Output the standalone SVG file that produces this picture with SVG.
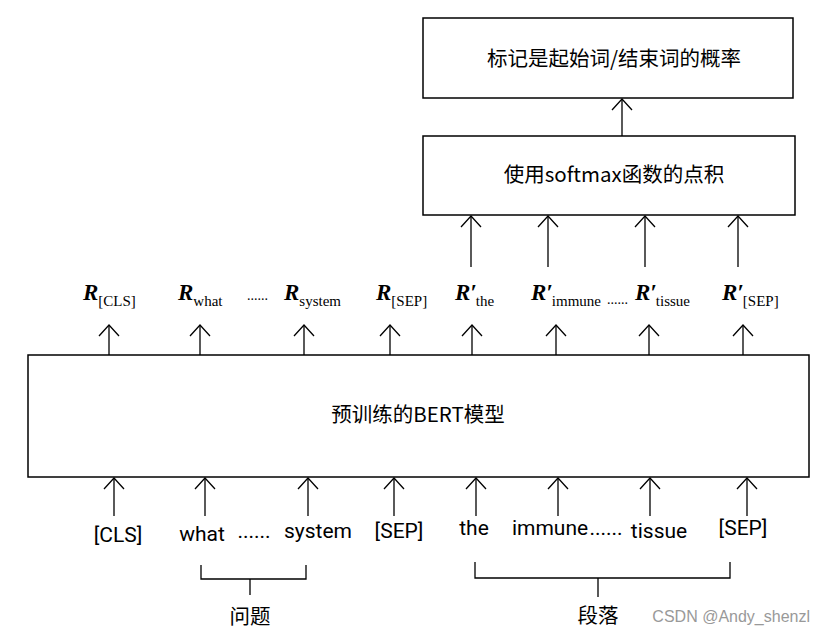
<svg xmlns="http://www.w3.org/2000/svg" width="825" height="641" viewBox="0 0 825 641">
<defs>
<marker id="arr" viewBox="-1 -1 14 22" refX="11" refY="10" markerWidth="14" markerHeight="22" markerUnits="userSpaceOnUse" orient="auto">
<path d="M0,0 L11,10 L0,20" fill="none" stroke="#000" stroke-width="1.3"/>
</marker>
</defs>
<style>
.box{fill:#fff;stroke:#000;stroke-width:1.5}
.cn{font-family:"Noto Sans CJK SC","Noto Sans",sans-serif;font-size:20.5px;fill:#000}
.tok{font-family:Roboto,"Liberation Sans",sans-serif;font-size:21px;fill:#000}
.r{font-family:"Liberation Serif",serif;font-size:23px;font-weight:bold;font-style:italic;fill:#000}
.sub{font-family:"Liberation Serif",serif;font-size:15px;font-weight:normal;font-style:normal}
.dots{font-family:"Liberation Serif",serif;font-size:14px;fill:#000}
.ln{stroke:#000;stroke-width:1.3;fill:none}
.wm{font-family:"Liberation Sans",Arial,sans-serif;font-size:16px;fill:#999}
</style>
<rect width="825" height="641" fill="#fff"/>

<g id="top-box">
<rect class="box" x="423" y="18" width="370" height="80"/>
<text class="cn" x="614" y="66" text-anchor="middle">标记是起始词/结束词的概率</text>
</g>
<g id="softmax-box">
<rect class="box" x="423" y="136" width="372" height="79"/>
<text class="cn" x="614" y="182" text-anchor="middle">使用softmax函数的点积</text>
</g>
<g id="bert-box">
<rect class="box" x="28" y="355" width="781" height="122"/>
<text class="cn" x="418" y="422" text-anchor="middle">预训练的BERT模型</text>
</g>

<g id="r-labels">
<text class="r" x="83" y="300">R<tspan class="sub" dy="6">[CLS]</tspan></text>
<text class="r" x="178" y="300">R<tspan class="sub" dy="6">what</tspan></text>
<text class="dots" x="247" y="300">......</text>
<text class="r" x="284" y="300">R<tspan class="sub" dy="6">system</tspan></text>
<text class="r" x="376" y="300">R<tspan class="sub" dy="6">[SEP]</tspan></text>
<text class="r" x="455" y="300">R′<tspan class="sub" dx="-1" dy="6">the</tspan></text>
<text class="r" x="531" y="300">R′<tspan class="sub" dx="-1" dy="6">immune</tspan></text>
<text class="dots" x="607" y="304">......</text>
<text class="r" x="635" y="300">R′<tspan class="sub" dx="-1" dy="6">tissue</tspan></text>
<text class="r" x="722" y="300">R′<tspan class="sub" dx="-1" dy="6">[SEP]</tspan></text>
</g>

<g id="tokens">
<text class="tok" x="118" y="542" text-anchor="middle">[CLS]</text>
<text class="tok" x="202" y="541" text-anchor="middle">what</text>
<text class="tok" x="254" y="538" text-anchor="middle">......</text>
<text class="tok" x="318" y="538" text-anchor="middle">system</text>
<text class="tok" x="399" y="538" text-anchor="middle">[SEP]</text>
<text class="tok" x="474" y="535" text-anchor="middle">the</text>
<text class="tok" x="550" y="535" text-anchor="middle">immune</text>
<text class="tok" x="606" y="535" text-anchor="middle">......</text>
<text class="tok" x="659" y="538" text-anchor="middle">tissue</text>
<text class="tok" x="743" y="535" text-anchor="middle">[SEP]</text>
</g>

<g id="question-label">
<path class="ln" d="M201,565 V579 H306 V565 M250,579 V595"/>
<text class="cn" x="250" y="624" text-anchor="middle">问题</text>
</g>
<g id="passage-label">
<path class="ln" d="M475,562 V578 H730 V562 M598,578 V597"/>
<text class="cn" x="598" y="623" text-anchor="middle">段落</text>
</g>

<g id="connectors">
<line class="ln" x1="622" y1="136" x2="622" y2="99" marker-end="url(#arr)"/>
<line class="ln" x1="471" y1="267" x2="471" y2="216" marker-end="url(#arr)"/>
<line class="ln" x1="548" y1="267" x2="548" y2="216" marker-end="url(#arr)"/>
<line class="ln" x1="645" y1="267" x2="645" y2="216" marker-end="url(#arr)"/>
<line class="ln" x1="738" y1="267" x2="738" y2="216" marker-end="url(#arr)" stroke="#888"/>
<line class="ln" x1="109" y1="355" x2="109" y2="325" marker-end="url(#arr)"/>
<line class="ln" x1="200" y1="355" x2="200" y2="325" marker-end="url(#arr)"/>
<line class="ln" x1="304" y1="355" x2="304" y2="325" marker-end="url(#arr)"/>
<line class="ln" x1="390" y1="355" x2="390" y2="325" marker-end="url(#arr)"/>
<line class="ln" x1="472" y1="355" x2="472" y2="325" marker-end="url(#arr)"/>
<line class="ln" x1="556" y1="355" x2="556" y2="325" marker-end="url(#arr)"/>
<line class="ln" x1="649" y1="355" x2="649" y2="325" marker-end="url(#arr)"/>
<line class="ln" x1="743" y1="355" x2="743" y2="325" marker-end="url(#arr)"/>
<line class="ln" x1="114" y1="516" x2="114" y2="478" marker-end="url(#arr)"/>
<line class="ln" x1="205" y1="516" x2="205" y2="478" marker-end="url(#arr)"/>
<line class="ln" x1="308" y1="516" x2="308" y2="478" marker-end="url(#arr)"/>
<line class="ln" x1="394" y1="516" x2="394" y2="478" marker-end="url(#arr)"/>
<line class="ln" x1="476" y1="516" x2="476" y2="478" marker-end="url(#arr)"/>
<line class="ln" x1="558" y1="516" x2="558" y2="478" marker-end="url(#arr)"/>
<line class="ln" x1="650" y1="516" x2="650" y2="478" marker-end="url(#arr)"/>
<line class="ln" x1="747" y1="516" x2="747" y2="478" marker-end="url(#arr)"/>
</g>

<text class="wm" x="810" y="622" text-anchor="end">CSDN @Andy_shenzl</text>
</svg>
